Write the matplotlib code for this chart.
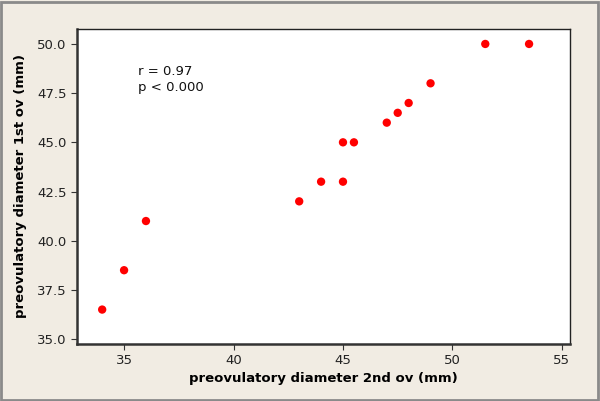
import matplotlib.pyplot as plt
from matplotlib.patches import Rectangle

# data
x_2nd = [34, 35, 36, 43, 44, 45, 45, 45.5, 47, 47.5, 48, 49, 51.5, 53.5]
y_1st = [36.5, 38.5, 41, 42, 43, 43, 45, 45, 46, 46.5, 47, 48, 50, 50]
x_ticks = [35, 40, 45, 50, 55]
y_ticks = [35.0, 37.5, 40.0, 42.5, 45.0, 47.5, 50.0]

plt.rcParams['font.family'] = ['DejaVu Sans']

fig = plt.figure(figsize=(6, 4.01), dpi=100, facecolor='#f1ece3')
ax = fig.add_axes([77/600, 1 - 344/401, (570-77)/600, (344-29)/401])
ax.set_facecolor('white')

ax.scatter(x_2nd, y_1st, s=36, color='#ff0000', edgecolors='none', zorder=3)

ax.set_xlim(32.85, 55.37)
ax.set_ylim(34.75, 50.76)
ax.set_xticks(x_ticks)
ax.set_xticklabels([str(t) for t in x_ticks])
ax.set_yticks(y_ticks)
ax.set_yticklabels(['%.1f' % t for t in y_ticks])
ax.tick_params(labelsize=9.5, length=4, color='#333333', labelcolor='#222222')

for s in ['left', 'bottom']:
    ax.spines[s].set_linewidth(1.8)
    ax.spines[s].set_color('#333333')
for s in ['top', 'right']:
    ax.spines[s].set_linewidth(1.0)
    ax.spines[s].set_color('#222222')

ax.set_xlabel('preovulatory diameter 2nd ov (mm)', fontsize=9.5, fontweight='bold', labelpad=3)
ax.set_ylabel('preovulatory diameter 1st ov (mm)', fontsize=9.5, fontweight='bold', labelpad=7)

ax.text(35.65, 48.2, 'r = 0.97\np < 0.000', fontsize=9.5, va='center', ha='left',
        linespacing=1.3, color='#111111')

# outer frame
fig.patches.append(Rectangle((0.002, 0.003), 0.995, 0.993, transform=fig.transFigure,
                             fill=False, edgecolor='#8a8a8a', linewidth=2))

fig.savefig('out.png', dpi=100, facecolor=fig.get_facecolor())
